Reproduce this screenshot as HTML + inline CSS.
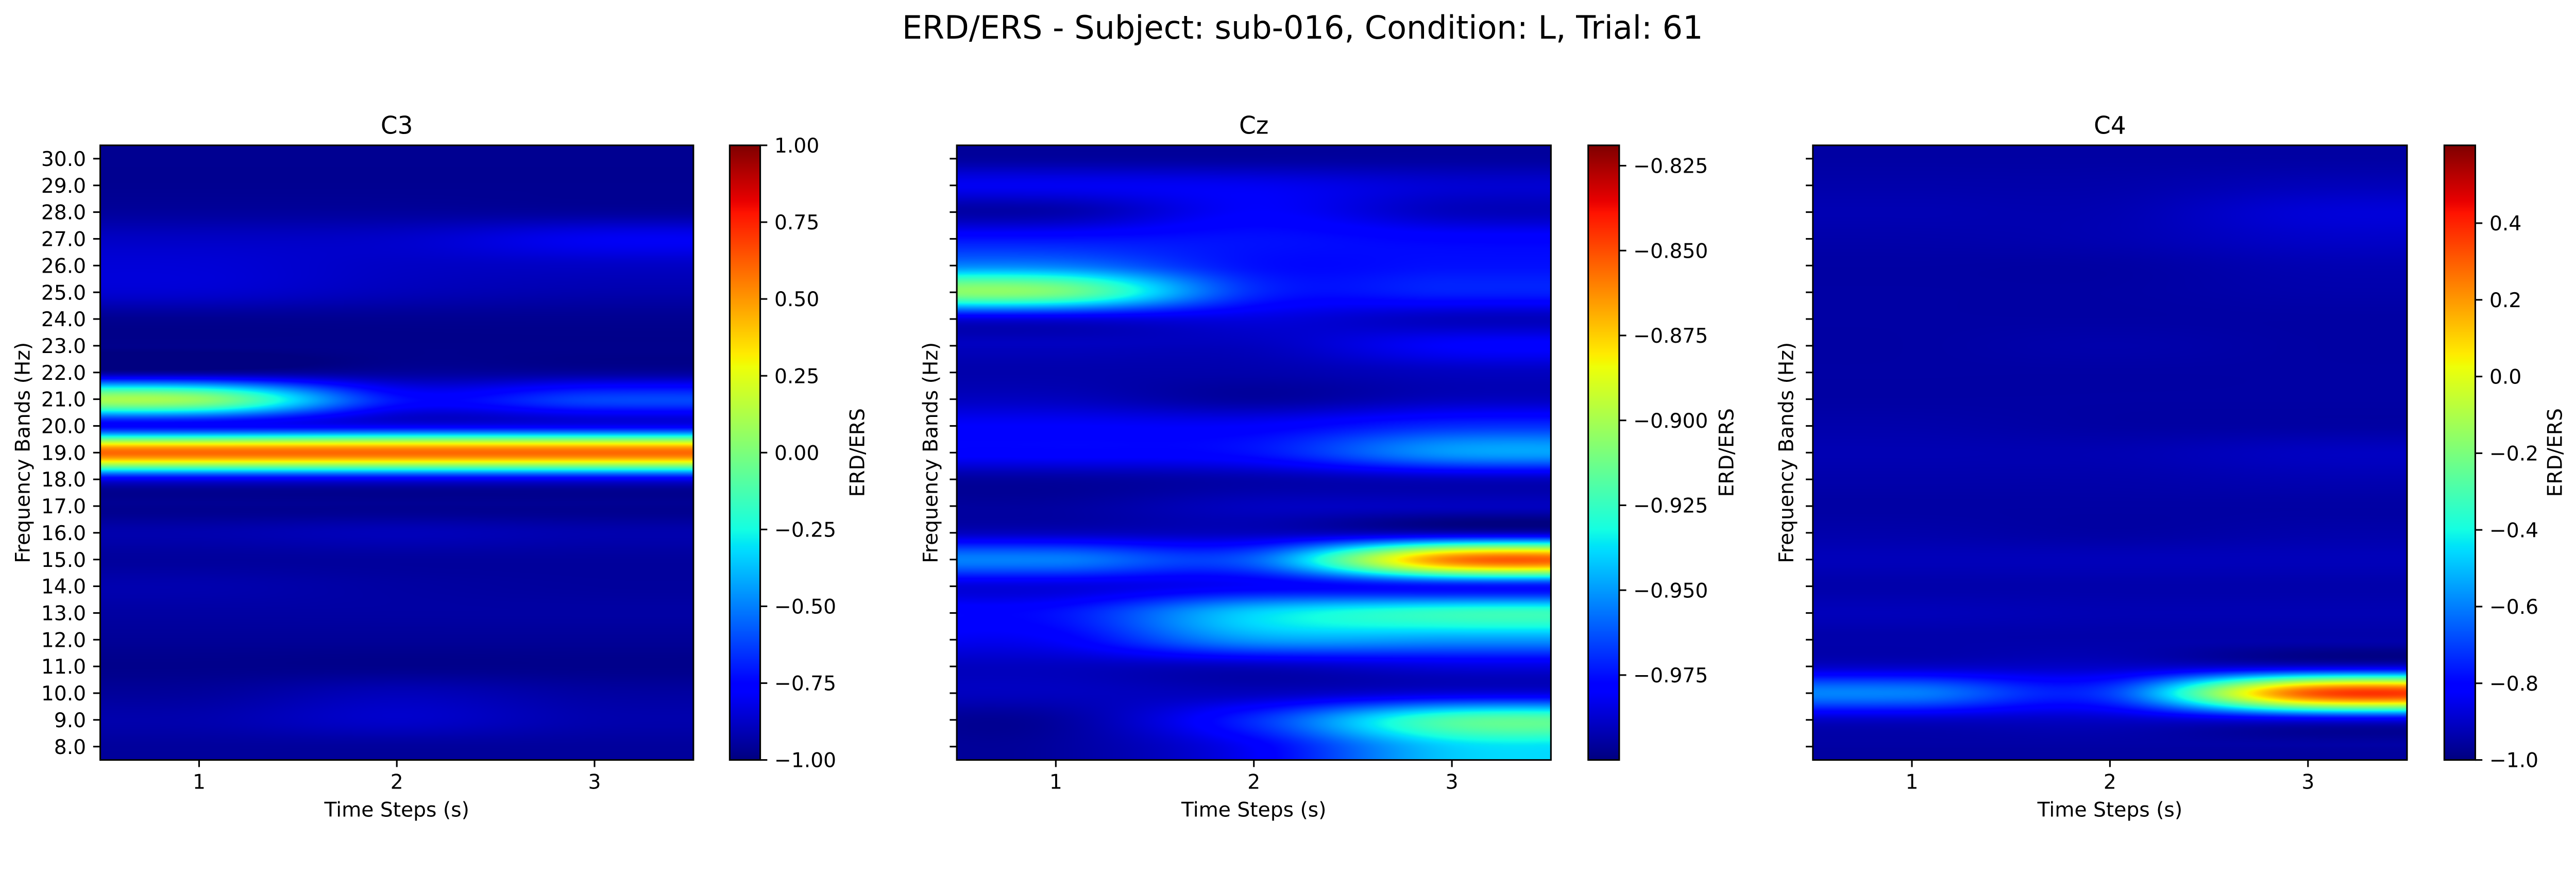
<!DOCTYPE html>
<html><head><meta charset="utf-8">
<style>
html,body{margin:0;padding:0;background:#fff;overflow:hidden;}
#wrap{position:absolute;left:0;top:0;width:5320px;height:1725px;overflow:hidden;background:#fff;font-family:"DejaVu Sans","Liberation Sans",sans-serif;transform-origin:0 0;}
canvas{position:absolute;display:block;}
svg{position:absolute;left:0;top:0;display:block;overflow:hidden;}
</style></head>
<body>
<div id="wrap">
<svg id="ov" width="5320" height="1725" viewBox="0 0 5320 1725"></svg>
</div>
<script>
// ---- data ----
const freqs = [8,9,10,11,12,13,14,15,16,17,18,19,20,21,22,23,24,25,26,27,28,29,30];
const timeSteps = [1,2,3];
// rows: freq 8..30, columns: t=1,2,3
const c3Values = [
 [-0.95,-0.95,-0.95],[-0.92,-0.87,-0.92],[-0.95,-0.90,-0.94],[-0.98,-0.98,-0.98],
 [-0.96,-0.96,-0.96],[-0.94,-0.94,-0.94],[-0.92,-0.94,-0.95],[-0.95,-0.95,-0.95],
 [-0.92,-0.90,-0.92],[-0.97,-0.97,-0.97],[-0.80,-0.80,-0.80],[0.60,0.60,0.60],
 [-0.76,-0.79,-0.79],[0.05,-0.72,-0.62],[-0.95,-0.95,-0.95],[-0.98,-0.98,-0.98],
 [-0.97,-0.97,-0.97],[-0.86,-0.90,-0.92],[-0.85,-0.88,-0.88],[-0.88,-0.87,-0.80],
 [-0.95,-0.95,-0.95],[-0.97,-0.97,-0.97],[-0.97,-0.97,-0.97]];
const czValues = [
 [-0.995,-0.98,-0.94],[-0.995,-0.97,-0.92],[-0.99,-0.99,-0.985],[-0.99,-0.99,-0.985],
 [-0.98,-0.95,-0.95],[-0.975,-0.94,-0.925],[-0.985,-0.98,-0.975],[-0.955,-0.96,-0.86],
 [-0.99,-0.99,-0.99],[-0.995,-0.99,-0.99],[-0.995,-0.993,-0.99],[-0.978,-0.975,-0.95],
 [-0.98,-0.98,-0.97],[-0.99,-0.995,-0.99],[-0.993,-0.993,-0.99],[-0.99,-0.99,-0.98],
 [-0.985,-0.985,-0.99],[-0.91,-0.97,-0.972],[-0.955,-0.975,-0.975],[-0.975,-0.975,-0.978],
 [-0.993,-0.98,-0.99],[-0.982,-0.982,-0.987],[-0.995,-0.995,-0.995]];
const c4Values = [
 [-0.95,-0.95,-0.95],[-0.90,-0.90,-0.85],[-0.60,-0.70,0.30],[-0.90,-0.90,-0.88],
 [-0.94,-0.94,-0.94],[-0.92,-0.93,-0.93],[-0.94,-0.94,-0.94],[-0.92,-0.92,-0.92],
 [-0.94,-0.95,-0.94],[-0.95,-0.95,-0.95],[-0.94,-0.94,-0.93],[-0.93,-0.93,-0.91],
 [-0.94,-0.95,-0.95],[-0.95,-0.95,-0.95],[-0.95,-0.95,-0.95],[-0.95,-0.94,-0.95],
 [-0.95,-0.95,-0.95],[-0.95,-0.95,-0.94],[-0.95,-0.95,-0.93],[-0.94,-0.93,-0.90],
 [-0.93,-0.93,-0.88],[-0.94,-0.94,-0.92],[-0.95,-0.95,-0.95]];
const channelNames = ["C3","Cz","C4"];
const vMins = [-1.0,-1.0,-1.0];
const vMaxs = [1.0,-0.819,0.603];
const c3CbarTicks = [-1.00,-0.75,-0.50,-0.25,0.00,0.25,0.50,0.75,1.00];
const czCbarTicks = [-0.975,-0.950,-0.925,-0.900,-0.875,-0.850,-0.825];
const c4CbarTicks = [-1.0,-0.8,-0.6,-0.4,-0.2,0.0,0.2,0.4];
const cbarDecimals = [2,3,1];
const xTickValues = [1,2,3];

// fit the 5320x1725 figure to the actual viewport
(function(){
  const w=document.getElementById('wrap');
  const vw=window.innerWidth||5320, vh=window.innerHeight||1725;
  const s=Math.min(vw/5320, vh/1725);
  if(Math.abs(s-1)>0.002) w.style.transform='scale('+s+')';
})();

// ---- layout ----
const panels = [
 {ax:[207,1432], cb:[1507,1570], ylab:46, cblab:1770, labels:true},
 {ax:[1976,3203], cb:[3280,3344], ylab:1921, cblab:3565, labels:false},
 {ax:[3744,4971], cb:[5048,5112], ylab:3688, cblab:5276, labels:false}];
const TOP=300, BOT=1569, FS=41.7, TL=14.6, LW=3.3;
const allValues=[c3Values,czValues,c4Values];
const allCbTicks=[c3CbarTicks,czCbarTicks,c4CbarTicks];

function jet(t){
  t=Math.max(0,Math.min(1,t));
  function seg(pts){for(let i=1;i<pts.length;i++){if(t<=pts[i][0]){const a=pts[i-1],b=pts[i];return a[1]+(b[1]-a[1])*(t-a[0])/(b[0]-a[0]);}}return pts[pts.length-1][1];}
  return [seg([[0,0],[0.35,0],[0.66,1],[0.89,1],[1,0.5]]),
          seg([[0,0],[0.125,0],[0.375,1],[0.64,1],[0.91,0],[1,0]]),
          seg([[0,0.5],[0.11,1],[0.34,1],[0.65,0],[1,0]])].map(v=>Math.round(v*255));
}
function kern(x){x=Math.abs(x);const a=-0.5;if(x<1)return (a+2)*x*x*x-(a+3)*x*x+1;if(x<2)return a*x*x*x-5*a*x*x+8*a*x-4*a;return 0;}

const svg=document.getElementById('ov');
const NS='http://www.w3.org/2000/svg';
function el(tag,attrs,txt){const e=document.createElementNS(NS,tag);for(const k in attrs)e.setAttribute(k,attrs[k]);if(txt!==undefined)e.textContent=txt;svg.appendChild(e);return e;}

const st=el('text',{x:2690,y:80,'font-size':66,'text-anchor':'middle',fill:'#000'},'ERD/ERS - Subject: sub-016, Condition: L, Trial: 61');



panels.forEach((p,pi)=>{
  const vals=allValues[pi], vmin=vMins[pi], vmax=vMaxs[pi];
  const x0=p.ax[0], x1=p.ax[1], W=x1-x0, H=BOT-TOP;
  const tMin=timeSteps[0]-0.5, tMax=timeSteps[timeSteps.length-1]+0.5;
  const fMin=freqs[0]-0.5, fMax=freqs[freqs.length-1]+0.5;
  const xs=v=>x0+(v-tMin)/(tMax-tMin)*W;
  const ys=v=>BOT-(v-fMin)/(fMax-fMin)*H;
  const cv=document.createElement('canvas');
  
  
  cv.width=W;cv.height=H;cv.style.left=x0+'px';cv.style.top=TOP+'px';cv.style.width=W+'px';cv.style.height=H+'px';
  document.getElementById('wrap').insertBefore(cv,svg);
  const ctx=cv.getContext('2d');const img=ctx.createImageData(W,H);
  const nr=freqs.length,nc=timeSteps.length;
  const get=(r,c)=>vals[Math.max(0,Math.min(nr-1,r))][Math.max(0,Math.min(nc-1,c))];
  const colW=[];
  for(let px=0;px<W;px++){const gx=(px+0.5)/W*nc-0.5;const ix=Math.floor(gx);const w=[];for(let k=-1;k<=2;k++)w.push([ix+k,kern(gx-(ix+k))]);colW.push(w);}
  for(let py=0;py<H;py++){
    const gy=(H-py-0.5)/H*nr-0.5;const iy=Math.floor(gy);
    const rw=[];for(let k=-1;k<=2;k++)rw.push([iy+k,kern(gy-(iy+k))]);
    for(let px=0;px<W;px++){
      let s=0;for(const [r,wr] of rw){for(const [c,wc] of colW[px]){s+=wr*wc*get(r,c);}}
      const col=jet((s-vmin)/(vmax-vmin));const o=(py*W+px)*4;
      img.data[o]=col[0];img.data[o+1]=col[1];img.data[o+2]=col[2];img.data[o+3]=255;
    }
  }
  ctx.putImageData(img,0,0);
  const cb=document.createElement('canvas');
  
  
  const cw=p.cb[1]-p.cb[0];cb.width=cw;cb.height=H;cb.style.left=p.cb[0]+'px';cb.style.top=TOP+'px';cb.style.width=cw+'px';cb.style.height=H+'px';
  document.getElementById('wrap').insertBefore(cb,svg);
  const cctx=cb.getContext('2d');
  for(let py=0;py<H;py++){const c=jet(1-(py+0.5)/H);cctx.fillStyle=`rgb(${c[0]},${c[1]},${c[2]})`;cctx.fillRect(0,py,cw,1);}
  const fr=el('rect',{x:x0,y:TOP,width:W,height:H,fill:'none',stroke:'#000','stroke-width':LW});
  
  
  const cfr=el('rect',{x:p.cb[0],y:TOP,width:cw,height:H,fill:'none',stroke:'#000','stroke-width':LW});
  
  
  const tt=el('text',{x:(x0+x1)/2,y:276,'font-size':50,'text-anchor':'middle'},channelNames[pi]);
  
  
  freqs.forEach(f=>{
    const y=ys(f);
    const tk=el('line',{x1:x0-TL,x2:x0,y1:y,y2:y,stroke:'#000','stroke-width':LW});
    
    
    if(p.labels){
      const lb=el('text',{x:x0-TL-14.6,y:y+15,'font-size':FS,'text-anchor':'end'},f.toFixed(1));
      
      
    }
  });
  xTickValues.forEach(t=>{
    const x=xs(t);
    const tk=el('line',{x1:x,x2:x,y1:BOT,y2:BOT+TL,stroke:'#000','stroke-width':LW});
    
    
    const lb=el('text',{x:x,y:BOT+TL+14.6+30,'font-size':FS,'text-anchor':'middle'},String(t));
    
    
  });
  const xl=el('text',{x:(x0+x1)/2,y:1686,'font-size':FS,'text-anchor':'middle'},'Time Steps (s)');
  
  
  const yl=el('text',{x:0,y:0,'font-size':FS,'text-anchor':'middle',transform:`translate(${p.ylab+15},${(TOP+BOT)/2}) rotate(-90)`},'Frequency Bands (Hz)');
  
  
  allCbTicks[pi].forEach(v=>{
    const y=BOT-(v-vmin)/(vmax-vmin)*H;
    const tk=el('line',{x1:p.cb[1],x2:p.cb[1]+TL,y1:y,y2:y,stroke:'#000','stroke-width':LW});
    
    
    const s=v.toFixed(cbarDecimals[pi]).replace('-','\u2212');
    const lb=el('text',{x:p.cb[1]+TL+14.6,y:y+15,'font-size':FS},s);
    
    
  });
  const cl=el('text',{x:0,y:0,'font-size':FS,'text-anchor':'middle',transform:`translate(${p.cblab+15},${(TOP+BOT)/2}) rotate(-90)`},'ERD/ERS');
  
  
});
</script>
</body></html>
